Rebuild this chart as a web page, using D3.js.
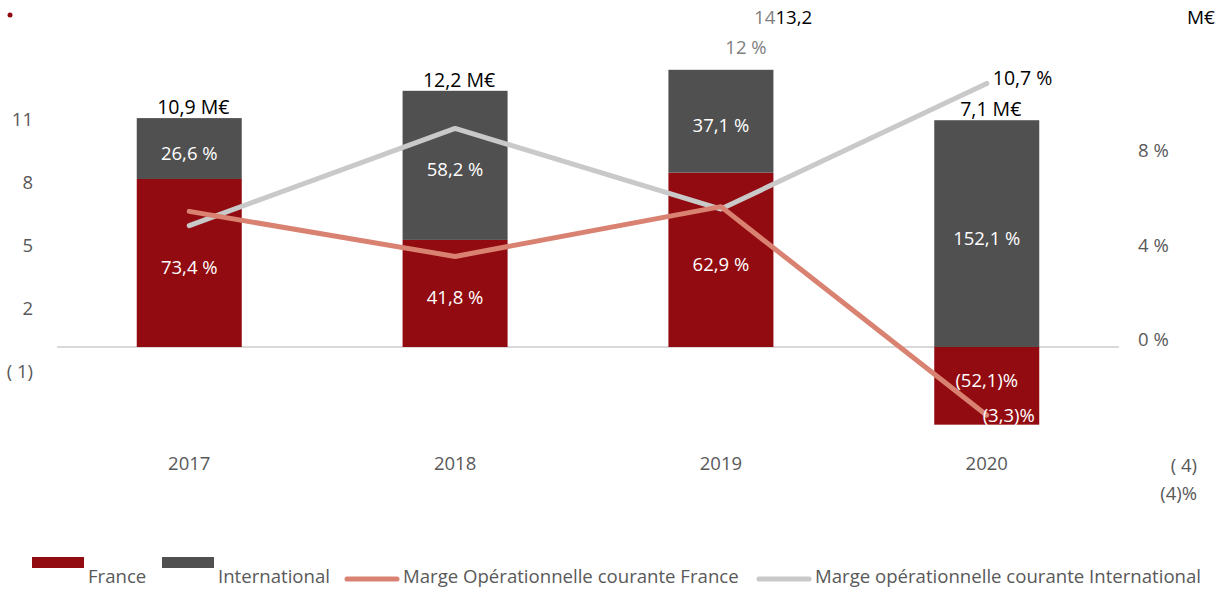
<!DOCTYPE html>
<html>
<head>
<meta charset="utf-8">
<script src="https://cdn.jsdelivr.net/npm/d3@7"></script>
<style>
  body { margin: 0; background: #fff; }
  text { font-family: "Open Sans", sans-serif; }
  .tick line, .domain { display: none; }
  .tick text { fill: #595959; font-size: 18.5px; font-family: "Open Sans", sans-serif; }
</style>
</head>
<body>
<div id="chart"></div>
<script>
// data
var years = ["2017", "2018", "2019", "2020"];
var totals = [10.9, 12.2, 13.2, 7.1];            // M€
var franceShare = [73.4, 41.8, 62.9, -52.1];     // % of total
var intlShare = [26.6, 58.2, 37.1, 152.1];       // % of total
var margeFrance = [5.3, 3.4, 5.5, -3.3];         // %
var margeIntl = [4.7, 8.8, 5.4, 10.7];           // %
var leftTicks = [-1, 2, 5, 8, 11];
var rightTicks = [0, 4, 8];

var width = 1226, height = 590;

var svg = d3.select("#chart")
    .append("svg")
        .attr("width", width)
        .attr("height", height);

var x = d3.scaleBand()
    .domain(years)
    .range([57, 1119])
    .paddingInner(0.605)
    .paddingOuter(0.3);

// left axis (M€) and right axis (%)
var y = d3.scaleLinear().domain([-4, 14]).range([431, 53]);
var y2 = d3.scaleLinear().domain([-4, 12]).range([337 + 4 * 23.7, 337 - 12 * 23.7]);

var fmt = function(v) { return d3.format(".1f")(v).replace(".", ","); };
var fmtPct = function(v) { return v < 0 ? "(" + fmt(-v) + ")%" : fmt(v) + " %"; };

svg.append("g")
    .attr("transform", "translate(33,4)")
    .call(d3.axisLeft(y).tickValues(leftTicks).tickSize(0).tickPadding(0)
        .tickFormat(function(d) { return d < 0 ? "( " + (-d) + ")" : d; }));

svg.append("g")
    .attr("transform", "translate(1138,3)")
    .call(d3.axisRight(y2).tickValues(rightTicks).tickSize(0).tickPadding(0)
        .tickFormat(function(d) { return d + " %"; }));

// zero line
svg.append("line")
    .attr("x1", 57).attr("x2", 1119)
    .attr("y1", y(0)).attr("y2", y(0))
    .attr("stroke", "#d9d9d9").attr("stroke-width", 2);

var rows = years.map(function(yr, i) {
    return {
        year: yr,
        total: totals[i],
        france: totals[i] * franceShare[i] / 100,
        intl: totals[i] * intlShare[i] / 100,
        fs: franceShare[i],
        is: intlShare[i]
    };
});

var colFrance = "#920b10", colIntl = "#505050";

var bars = svg.append("g").selectAll("g")
    .data(rows)
    .enter().append("g");

// France segment (from 0, may be negative)
bars.append("rect")
    .attr("x", function(d) { return x(d.year); })
    .attr("width", x.bandwidth())
    .attr("y", function(d) { return y(Math.max(0, d.france)); })
    .attr("height", function(d) { return Math.abs(y(d.france) - y(0)); })
    .attr("fill", colFrance);

// International segment stacked on positive France
bars.append("rect")
    .attr("x", function(d) { return x(d.year); })
    .attr("width", x.bandwidth())
    .attr("y", function(d) { return y(Math.max(0, d.france) + d.intl); })
    .attr("height", function(d) { return y(Math.max(0, d.france)) - y(Math.max(0, d.france) + d.intl); })
    .attr("fill", colIntl);

// share labels inside bars
bars.append("text")
    .attr("x", function(d) { return x(d.year) + x.bandwidth() / 2; })
    .attr("y", function(d) {
        var b = Math.max(0, d.france);
        return (y(b) + y(b + d.intl)) / 2 + 11;
    })
    .attr("text-anchor", "middle")
    .attr("fill", "#fff").attr("font-size", 18.5)
    .text(function(d) { return fmtPct(d.is); });

bars.append("text")
    .attr("x", function(d) { return x(d.year) + x.bandwidth() / 2; })
    .attr("y", function(d) {
        return d.france >= 0 ? y(d.france / 2) + 11 : y(d.france * 0.37) + 11;
    })
    .attr("text-anchor", "middle")
    .attr("fill", "#fff").attr("font-size", 18.5)
    .text(function(d) { return fmtPct(d.fs); });

// total labels above bars (2019 is written in the top line)
bars.filter(function(d) { return d.year != "2019"; })
    .append("text")
    .attr("x", function(d) { return x(d.year) + x.bandwidth() / 2 + 4; })
    .attr("y", function(d) { return y(Math.max(0, d.france) + d.intl) - 4; })
    .attr("text-anchor", "middle")
    .attr("fill", "#000").attr("font-size", 19.5)
    .text(function(d) { return fmt(d.total) + " M€"; });

// margin lines
var line = d3.line()
    .x(function(d, i) { return x(years[i]) + x.bandwidth() / 2; })
    .y(function(d) { return y2(d); });

svg.append("path")
    .datum(margeIntl)
    .attr("d", line)
    .attr("fill", "none")
    .attr("stroke", "#c9c9c9").attr("stroke-width", 5)
    .attr("stroke-linecap", "round").attr("stroke-linejoin", "round");

svg.append("path")
    .datum(margeFrance)
    .attr("d", line)
    .attr("fill", "none")
    .attr("stroke", "#d98272").attr("stroke-width", 5)
    .attr("stroke-linecap", "round").attr("stroke-linejoin", "round");

// 2020 margin labels
var last = years.length - 1;
svg.append("text")
    .attr("x", x(years[last]) + x.bandwidth() / 2 + 6)
    .attr("y", y2(margeIntl[last]) + 2)
    .attr("fill", "#000").attr("font-size", 19.5)
    .text(fmtPct(margeIntl[last]));

svg.append("text")
    .attr("x", x(years[last]) + x.bandwidth() / 2 + 22)
    .attr("y", y2(margeFrance[last]) + 7)
    .attr("text-anchor", "middle")
    .attr("fill", "#fff").attr("font-size", 18.5)
    .text(fmtPct(margeFrance[last]));

// stray labels from the source layout
svg.append("circle").attr("cx", 10).attr("cy", 15).attr("r", 2.5).attr("fill", colFrance);

var topLabel = svg.append("text")
    .attr("x", 754).attr("y", 24).attr("font-size", 18.7);
topLabel.append("tspan").attr("fill", "#7f7f7f").text("14");
topLabel.append("tspan").attr("fill", "#000").text(fmt(totals[2]));

svg.append("text").attr("x", 746).attr("y", 54).attr("text-anchor", "middle")
    .attr("fill", "#7f7f7f").attr("font-size", 18.5).text("12 %");
svg.append("text").attr("x", 1187).attr("y", 24)
    .attr("fill", "#000").attr("font-size", 19).text("M€");
svg.append("text").attr("x", 1197).attr("y", 472).attr("text-anchor", "end")
    .attr("fill", "#595959").attr("font-size", 18.5).text("( 4)");
svg.append("text").attr("x", 1197).attr("y", 500).attr("text-anchor", "end")
    .attr("fill", "#595959").attr("font-size", 18.5).text("(4)%");

// x axis labels
svg.append("g")
    .attr("transform", "translate(0,453)")
    .call(d3.axisBottom(x).tickSize(0).tickPadding(0))
    .selectAll("text").attr("dy", "0.9em");

// legend
var legend = svg.append("g");
var legItems = [
    {label: "France", type: "rect", color: colFrance, x: 32, tx: 88},
    {label: "International", type: "rect", color: colIntl, x: 162, tx: 218},
    {label: "Marge Opérationnelle courante France", type: "line", color: "#d98272", x: 347, tx: 403},
    {label: "Marge opérationnelle courante International", type: "line", color: "#c9c9c9", x: 759, tx: 815}
];
legItems.forEach(function(d) {
    if (d.type == "rect") {
        legend.append("rect")
            .attr("x", d.x).attr("y", 557)
            .attr("width", 52).attr("height", 11)
            .attr("fill", d.color);
    } else {
        legend.append("line")
            .attr("x1", d.x).attr("x2", d.x + 50)
            .attr("y1", 579).attr("y2", 579)
            .attr("stroke", d.color).attr("stroke-width", 5)
            .attr("stroke-linecap", "round");
    }
    legend.append("text")
        .attr("x", d.tx).attr("y", 583)
        .attr("fill", "#595959").attr("font-size", 18.6)
        .text(d.label);
});
</script>
</body>
</html>
